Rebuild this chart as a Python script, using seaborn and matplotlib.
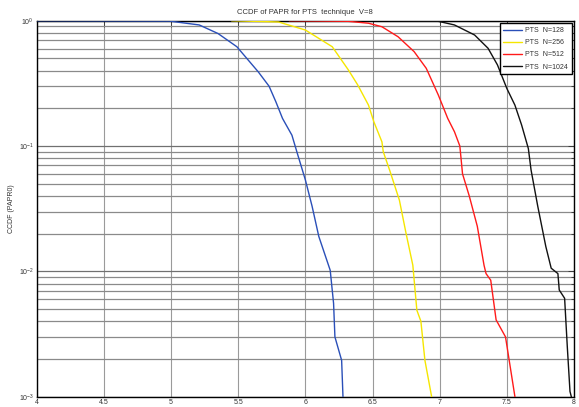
import numpy as np
import pandas as pd
import matplotlib
matplotlib.use("Agg")
import matplotlib.pyplot as plt
import seaborn as sns
from matplotlib.ticker import LogLocator

# PAPR0 thresholds (dB) and CCDF values for each subcarrier count
papr_128 = [4.00, 4.99, 5.21, 5.35, 5.49, 5.65, 5.73, 5.78, 5.83, 5.90, 5.94,
            6.00, 6.05, 6.10, 6.185, 6.21, 6.22, 6.27, 6.28]
ccdf_128 = [1.0, 0.993, 0.925, 0.79, 0.62, 0.39, 0.30, 0.226, 0.166, 0.122,
            0.0875, 0.0537, 0.0331, 0.019, 0.0102, 0.00556, 0.0030, 0.00195, 0.001]

papr_256 = [5.45, 5.80, 6.00, 6.20, 6.32, 6.39, 6.47, 6.51, 6.57, 6.58, 6.63,
            6.70, 6.75, 6.80, 6.83, 6.86, 6.89, 6.94]
ccdf_256 = [1.0, 0.977, 0.843, 0.62, 0.405, 0.307, 0.212, 0.156, 0.108, 0.090,
            0.063, 0.037, 0.020, 0.0112, 0.0049, 0.0040, 0.00195, 0.001]

papr_512 = [5.88, 6.32, 6.47, 6.57, 6.69, 6.81, 6.90, 6.99, 7.06, 7.11, 7.15,
            7.17, 7.22, 7.28, 7.33, 7.345, 7.38, 7.42, 7.49, 7.56]
ccdf_512 = [1.0, 0.989, 0.955, 0.895, 0.745, 0.566, 0.417, 0.255, 0.166, 0.130,
            0.100, 0.060, 0.040, 0.0229, 0.0112, 0.0096, 0.0085, 0.0041, 0.0030, 0.001]

papr_1024 = [6.62, 6.99, 7.11, 7.26, 7.36, 7.43, 7.50, 7.56, 7.61, 7.66, 7.68,
             7.73, 7.79, 7.83, 7.88, 7.89, 7.93, 7.95, 7.97, 7.98]
ccdf_1024 = [1.0, 0.989, 0.925, 0.769, 0.603, 0.444, 0.288, 0.212, 0.147, 0.0955,
             0.0646, 0.0331, 0.0158, 0.0106, 0.0096, 0.0071, 0.0061, 0.0025, 0.0011, 0.001]

labels = ["PTS  N=128", "PTS  N=256", "PTS  N=512", "PTS  N=1024"]
colors = ["#2a4fb8", "#f5e600", "#ff1a1a", "#111111"]

frames = []
for lab, xs, ys in zip(labels,
                       [papr_128, papr_256, papr_512, papr_1024],
                       [ccdf_128, ccdf_256, ccdf_512, ccdf_1024]):
    frames.append(pd.DataFrame({"papr": xs, "ccdf": ys, "series": lab}))
df = pd.concat(frames, ignore_index=True)

sns.set_style("white")
plt.rcParams["font.family"] = ["Liberation Sans", "DejaVu Sans"]

fig = plt.figure(figsize=(5.79, 4.07), dpi=100)
ax = fig.add_axes([0.0634, 0.0253, 0.928, 0.9238])

sns.lineplot(data=df, x="papr", y="ccdf", hue="series", hue_order=labels,
             palette=colors, sort=False, estimator=None, units="series",
             linewidth=1.0, ax=ax, zorder=3, legend=True)

ax.set_yscale("log")
ax.set_xlim(4, 8)
ax.set_ylim(1e-3, 1)
ax.set_xticks(np.arange(4, 8.01, 0.5))
ax.set_xticklabels(["4", "4.5", "5", "5.5", "6", "6.5", "7", "7.5", "8"])
ax.yaxis.set_major_locator(LogLocator(base=10, numticks=10))
ax.yaxis.set_minor_locator(LogLocator(base=10, subs=np.arange(2, 10), numticks=20))

ax.grid(True, which="major", axis="x", color="#9a9a9a", linewidth=0.8)
ax.grid(True, which="major", axis="y", color="#707070", linewidth=0.9)
ax.grid(True, which="minor", axis="y", color="#8a8a8a", linewidth=0.9)

ax.tick_params(which="both", direction="in", top=True, right=True,
               labelsize=5, colors="#333333", pad=2)
ax.tick_params(which="major", length=4, width=0.6)
ax.tick_params(which="minor", length=2, width=0.6)
for s in ax.spines.values():
    s.set_color("black")
    s.set_linewidth(1.0)

ax.set_xlabel("")
ax.set_ylabel("CCDF (PAPR0)", fontsize=5, color="#333333", labelpad=3)
ax.set_title("CCDF of PAPR for PTS  technique  V=8", fontsize=5.5,
             color="#333333", pad=5)

leg = ax.legend(loc="upper right", fontsize=5, frameon=True, fancybox=False,
                borderaxespad=0.35, handlelength=2.6, handletextpad=0.5,
                labelspacing=0.75, borderpad=0.55)
leg.get_frame().set_edgecolor("black")
leg.get_frame().set_linewidth(1.0)
leg.get_frame().set_alpha(1)
for t in leg.get_texts():
    t.set_color("#333333")

fig.savefig("out.png", dpi=100)
